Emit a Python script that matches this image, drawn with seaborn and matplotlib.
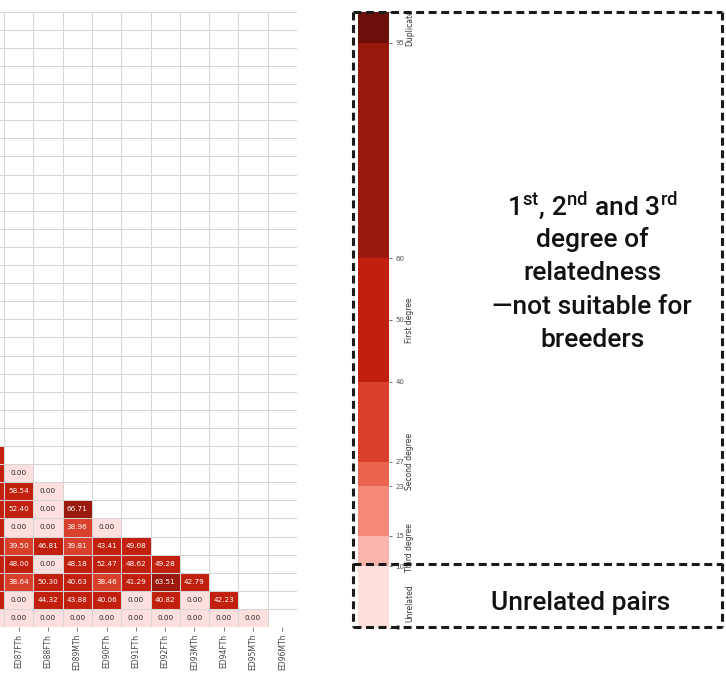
import numpy as np
import pandas as pd
import matplotlib

matplotlib.use("Agg")
import matplotlib.pyplot as plt
import matplotlib.transforms as mtransforms
from matplotlib.colors import ListedColormap, BoundaryNorm
from matplotlib.lines import Line2D
import seaborn as sns

# samples shown at the right end of the kinship matrix
samples = ["ED86FTh", "ED87FTh", "ED88FTh", "ED89MTh", "ED90FTh", "ED91FTh",
           "ED92FTh", "ED93MTh", "ED94FTh", "ED95MTh", "ED96MTh"]
# rows above ED86FTh whose visible cells are all in the masked upper triangle
n_rows_above = 23

# lower-triangle values (relatedness, %), one list per row, starting at ED86FTh
row_ED87 = [44.1]
row_ED88 = [47.3, 0.00]
row_ED89 = [42.6, 58.54, 0.00]
row_ED90 = [48.9, 52.40, 0.00, 66.71]
row_ED91 = [45.2, 0.00, 0.00, 38.96, 0.00]
row_ED92 = [41.8, 39.50, 46.81, 39.81, 43.41, 49.08]
row_ED93 = [46.5, 48.00, 0.00, 48.18, 52.47, 48.62, 49.28]
row_ED94 = [43.7, 38.64, 50.30, 40.63, 38.46, 41.29, 63.51, 42.79]
row_ED95 = [49.0, 0.00, 44.32, 43.88, 40.06, 0.00, 40.82, 0.00, 42.23]
row_ED96 = [0.00, 0.00, 0.00, 0.00, 0.00, 0.00, 0.00, 0.00, 0.00, 0.00]

# discrete relatedness classes for the colour scale
class_bounds = [0, 10, 15, 23, 27, 40, 60, 95, 100]
class_colors = ["#fde0dd", "#f9b4ab", "#f7897b", "#e9634f",
                "#d8402b", "#c2200f", "#9a190c", "#6c0f08"]
cbar_ticks = [0, 10, 15, 23, 27, 40, 50, 60, 95]
class_names = ["Unrelated", "Third degree", "Second degree", "First degree", "Duplicate"]
class_label_pos = [4, 13, 27, 50, 97.5]

# build the matrix
lower_rows = [row_ED87, row_ED88, row_ED89, row_ED90, row_ED91,
              row_ED92, row_ED93, row_ED94, row_ED95, row_ED96]
mat = np.full((n_rows_above + len(samples), len(samples)), np.nan)
for i, vals in enumerate(lower_rows):
    mat[n_rows_above + 1 + i, :len(vals)] = vals
df = pd.DataFrame(mat, index=[""] * n_rows_above + samples, columns=samples)

sns.set_style("white")
plt.rcParams["font.family"] = ["DejaVu Sans"]
plt.rcParams["mathtext.fontset"] = "custom"

W, H = 726, 688
fig = plt.figure(figsize=(W / 100, H / 100), dpi=100)


def px_box(x0, y0, x1, y1):
    return [x0 / W, 1 - y1 / H, (x1 - x0) / W, (y1 - y0) / H]


ax = fig.add_axes(px_box(0, 11.7, 297, 627))
cax = fig.add_axes(px_box(358, 12, 389, 628))

cmap = ListedColormap(class_colors)
norm = BoundaryNorm(class_bounds, cmap.N)

sns.heatmap(df, mask=df.isna(), cmap=cmap, norm=norm, annot=True, fmt=".2f",
            annot_kws={"fontsize": 5.2}, linewidths=0,
            yticklabels=False, ax=ax, cbar_ax=cax,
            cbar_kws={"spacing": "proportional", "ticks": cbar_ticks})

# thin light grid on the cell boundaries, over the cells
n_rows, n_cols = df.shape
ax.vlines(np.arange(n_cols + 1), 0, n_rows, color="#d6d6d6", lw=0.75, zorder=1.5)
ax.hlines(np.arange(n_rows + 1), 0, n_cols, color="#d6d6d6", lw=0.75, zorder=1.5)

ax.tick_params(axis="x", which="major", bottom=True, length=3, width=0.6,
               color="#666666", pad=2, labelsize=5.5, labelcolor="#444444",
               labelrotation=90)
ax.set_xlabel("")
ax.set_ylabel("")
# only the right end of the matrix is in view
x_left = 1 - 4 / 29.3
ax.set_xlim(x_left, n_cols)
ax.set_ylim(n_rows, 0)
for t in ax.texts:
    if t.get_position()[0] < x_left:
        t.set_visible(False)

# colour bar
cax.tick_params(labelsize=5, length=2.5, width=0.6, colors="#555555", pad=2)
trans = mtransforms.blended_transform_factory(cax.transAxes, cax.transData)
for name, pos in zip(class_names, class_label_pos):
    cax.text(1.66, pos, name, transform=trans, rotation=90, ha="center",
             va="center", fontsize=5.5, color="#333333")

# dashed boxes
dash = dict(color="#1a1a1a", lw=2.2, ls=(0, (2.6, 1.5)))
bx0, bx1 = 352.7, 721.5
by_top, by_mid, by_bot = 12, 563.5, 627
for y in (by_top, by_mid, by_bot):
    fig.add_artist(Line2D([bx0 / W, bx1 / W], [1 - y / H, 1 - y / H], **dash))
for x in (bx0, bx1):
    fig.add_artist(Line2D([x / W, x / W], [1 - by_top / H, 1 - by_bot / H], **dash))

# annotation text
fam = ["Roboto", "DejaVu Sans"]
plt.rcParams["mathtext.rm"] = "Roboto"
note_lines = [r"1$^{\mathregular{st}}$, 2$^{\mathregular{nd}}$ and 3$^{\mathregular{rd}}$",
              "degree of", "relatedness", "\u2014not suitable for", "breeders"]
note_y = [206, 240, 273, 307, 340]
for txt, y in zip(note_lines, note_y):
    fig.text(592 / W, 1 - y / H, txt, ha="center", va="center", fontsize=19,
             family=fam, weight="medium", color="#111111")
fig.text(581 / W, 1 - 603 / H, "Unrelated pairs", ha="center", va="center",
         fontsize=19, family=fam, weight="medium", color="#111111")

fig.savefig("out.png", dpi=100)
